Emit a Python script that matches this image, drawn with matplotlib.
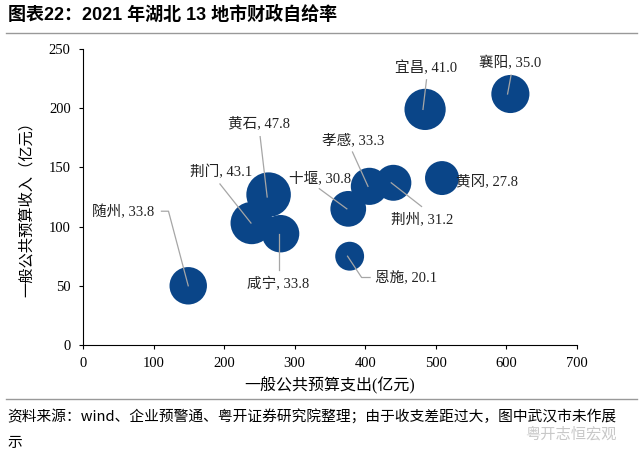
import matplotlib.pyplot as plt
from matplotlib.lines import Line2D

plt.rcParams['font.family'] = ['Liberation Serif', 'Noto Sans CJK SC']

# city data: expenditure (x), revenue (y), self-sufficiency rate (bubble size)
cities = ['随州', '荆门', '黄石', '咸宁', '十堰', '恩施', '孝感', '荆州', '黄冈', '宜昌', '襄阳']
spend = [149, 239, 263, 280, 376, 378, 406, 440, 509, 485, 606]
income = [50, 103, 127, 94, 115, 75, 134, 137, 141, 199, 212]
rate = [33.8, 43.1, 47.8, 33.8, 30.8, 20.1, 33.3, 31.2, 27.8, 41.0, 35.0]

# label centre (data coords) and leader line path per city
label_xy = [(56, 112), (195, 146), (249, 187), (277, 51), (336, 141), (458, 57),
            (383, 173), (481, 106), (573, 138), (487, 234), (606, 238)]
leaders = [[(111, 113), (121, 113), (149, 50)],
           [(194, 136), (238, 103)],
           [(251, 176), (261, 125)],
           [(278, 63), (278, 94)],
           [(335, 132), (374, 115)],
           [(375, 75), (395, 57), (407, 57)],
           [(382, 163), (404, 134)],
           [(437, 137), (480, 117)],
           [],
           [(487, 224), (482, 199)],
           [(607, 228), (602, 212)]]

fig = plt.figure(figsize=(6.4, 4.59), dpi=100)
ax = fig.add_axes([0.130, 0.2484, 0.771, 0.6448])

ax.scatter(spend, income, s=[21.5 * r for r in rate], color='#0a4588',
           edgecolors='none', zorder=2)

for name, r, (tx, ty), pts in zip(cities, rate, label_xy, leaders):
    if pts:
        ax.add_line(Line2D([p[0] for p in pts], [p[1] for p in pts],
                           color='#a6a6a6', lw=0.9, zorder=3))
    ax.text(tx, ty, f'{name}, {r:.1f}', ha='center', va='center',
            fontsize=10.5, color='#222222', zorder=4)

ax.set_xlim(0, 700)
ax.set_ylim(0, 250)
ax.set_xticks(range(0, 701, 100))
ax.set_yticks(range(0, 251, 50))
ax.spines['top'].set_visible(False)
ax.spines['right'].set_visible(False)
ax.tick_params(direction='out', length=3, labelsize=10.5, pad=6)
ax.set_xlabel('一般公共预算支出(亿元)', fontsize=11.5, labelpad=5)
ax.set_ylabel('一般公共预算收入（亿元）', fontsize=11)
ax.yaxis.set_label_coords(-0.10, 0.47)

# header / footer
fig.text(0.012, 0.968, '图表22：2021 年湖北 13 地市财政自给率', fontsize=13,
         fontweight='bold', family=['Liberation Sans', 'Noto Sans CJK SC'], va='center')
fig.add_artist(Line2D([0.01, 0.995], [0.928, 0.928], color='#999999', lw=1))
fig.add_artist(Line2D([0.01, 0.995], [0.131, 0.131], color='#999999', lw=1))
fig.text(0.012, 0.092, '资料来源：wind、企业预警通、粤开证券研究院整理；由于收支差距过大，图中武汉市未作展',
         fontsize=10.6, style='italic', family=['Noto Sans CJK SC', 'DejaVu Sans'], va='center')
fig.text(0.012, 0.035, '示', fontsize=10.6, style='italic',
         family=['Noto Sans CJK SC', 'DejaVu Sans'], va='center')
fig.text(0.82, 0.054, '粤开志恒宏观', fontsize=11, color='#c8c8c8',
         family=['Noto Sans CJK SC', 'DejaVu Sans'], va='center')

fig.savefig('out.png', dpi=100)
